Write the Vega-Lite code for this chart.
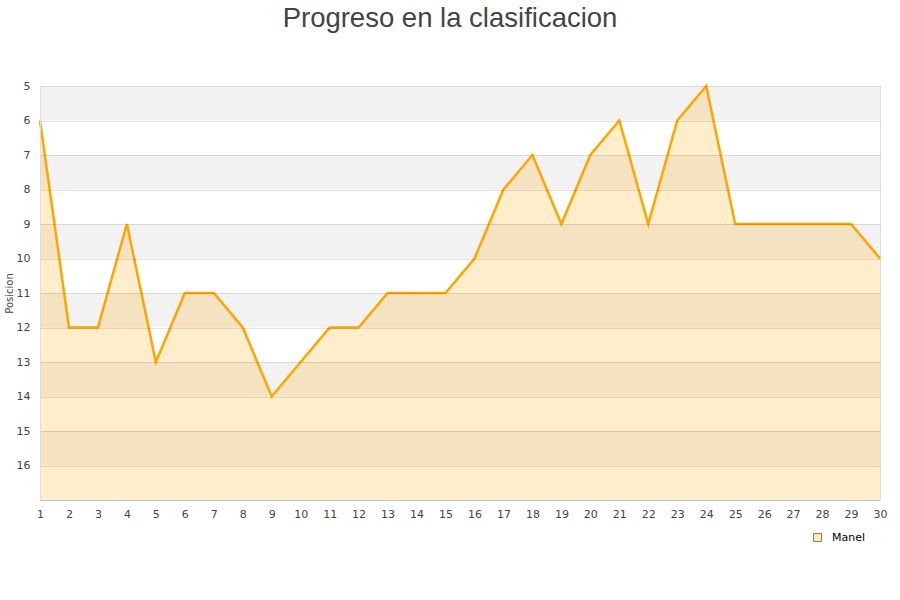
{
  "$schema": "https://vega.github.io/schema/vega-lite/v6.json",
  "width": 840,
  "height": 414,
  "autosize": {"type": "none"},
  "padding": {"left": 40, "top": 86, "right": 20, "bottom": 100},
  "background": "white",
  "title": {
    "text": "Progreso en la clasificacion",
    "font": "Liberation Sans",
    "fontSize": 27.5,
    "fontWeight": "normal",
    "color": "#444444",
    "anchor": "middle",
    "frame": "group",
    "dx": -10,
    "offset": 48
  },
  "config": {
    "view": {"stroke": "#dddddd"},
    "axis": {
      "labelFont": "DejaVu Sans",
      "labelFontSize": 11,
      "labelColor": "#444444",
      "titleFont": "DejaVu Sans",
      "titleFontWeight": "normal",
      "titleColor": "#444444",
      "labelOverlap": false
    }
  },
  "datasets": {
    "pos": [
      {"jornada": 1, "posicion": 6, "jugador": "Manel"},
      {"jornada": 2, "posicion": 12, "jugador": "Manel"},
      {"jornada": 3, "posicion": 12, "jugador": "Manel"},
      {"jornada": 4, "posicion": 9, "jugador": "Manel"},
      {"jornada": 5, "posicion": 13, "jugador": "Manel"},
      {"jornada": 6, "posicion": 11, "jugador": "Manel"},
      {"jornada": 7, "posicion": 11, "jugador": "Manel"},
      {"jornada": 8, "posicion": 12, "jugador": "Manel"},
      {"jornada": 9, "posicion": 14, "jugador": "Manel"},
      {"jornada": 10, "posicion": 13, "jugador": "Manel"},
      {"jornada": 11, "posicion": 12, "jugador": "Manel"},
      {"jornada": 12, "posicion": 12, "jugador": "Manel"},
      {"jornada": 13, "posicion": 11, "jugador": "Manel"},
      {"jornada": 14, "posicion": 11, "jugador": "Manel"},
      {"jornada": 15, "posicion": 11, "jugador": "Manel"},
      {"jornada": 16, "posicion": 10, "jugador": "Manel"},
      {"jornada": 17, "posicion": 8, "jugador": "Manel"},
      {"jornada": 18, "posicion": 7, "jugador": "Manel"},
      {"jornada": 19, "posicion": 9, "jugador": "Manel"},
      {"jornada": 20, "posicion": 7, "jugador": "Manel"},
      {"jornada": 21, "posicion": 6, "jugador": "Manel"},
      {"jornada": 22, "posicion": 9, "jugador": "Manel"},
      {"jornada": 23, "posicion": 6, "jugador": "Manel"},
      {"jornada": 24, "posicion": 5, "jugador": "Manel"},
      {"jornada": 25, "posicion": 9, "jugador": "Manel"},
      {"jornada": 26, "posicion": 9, "jugador": "Manel"},
      {"jornada": 27, "posicion": 9, "jugador": "Manel"},
      {"jornada": 28, "posicion": 9, "jugador": "Manel"},
      {"jornada": 29, "posicion": 9, "jugador": "Manel"},
      {"jornada": 30, "posicion": 10, "jugador": "Manel"}
    ],
    "bands": [
      {"desde": 5, "hasta": 6},
      {"desde": 7, "hasta": 8},
      {"desde": 9, "hasta": 10},
      {"desde": 11, "hasta": 12},
      {"desde": 13, "hasta": 14},
      {"desde": 15, "hasta": 16}
    ]
  },
  "layer": [
    {
      "data": {"name": "bands"},
      "mark": {"type": "rect", "color": "#f2f2f2"},
      "encoding": {
        "y": {"field": "desde", "type": "quantitative", "scale": {"domain": [5, 17], "reverse": true, "nice": false, "zero": false}},
        "y2": {"field": "hasta"}
      }
    },
    {
      "data": {"name": "pos"},
      "mark": {"type": "area", "fillOpacity": 0.2, "interpolate": "linear"},
      "encoding": {
        "x": {"field": "jornada", "type": "quantitative",
              "scale": {"domain": [1, 30], "nice": false, "zero": false},
              "axis": {"values": [1,2,3,4,5,6,7,8,9,10,11,12,13,14,15,16,17,18,19,20,21,22,23,24,25,26,27,28,29,30], "tickCount": 30,
                       "title": null, "grid": false, "ticks": false, "domain": true, "domainColor": "#dddddd", "labelPadding": 8, "labelFlush": false, "labelOverlap": false}},
        "y": {"field": "posicion", "type": "quantitative",
              "scale": {"domain": [5, 17], "reverse": true, "nice": false, "zero": false},
              "axis": {"values": [5,6,7,8,9,10,11,12,13,14,15,16,17], "tickCount": 13, "labelExpr": "datum.value == 17 ? '' : datum.label",
                       "title": "Posicion", "titleFontSize": 10, "titleX": -31, "titleY": 207, "titleAngle": -90, "titleBaseline": "middle", "titleAlign": "center",
                       "grid": true, "gridColor": "#000000", "gridOpacity": 0.11, "ticks": false, "domain": true, "domainColor": "#dddddd",
                       "labelPadding": 10, "labelOverlap": false, "zindex": 1}},
        "y2": {"datum": 17},
        "fill": {"field": "jugador", "type": "nominal",
                 "scale": {"range": ["#ffa500"]},
                 "legend": {"orient": "none", "legendX": 772, "legendY": 446, "title": null,
                            "symbolType": "square", "symbolSize": 64, "labelOffset": 9,
                            "labelFont": "DejaVu Sans", "labelFontSize": 11, "labelColor": "#000000",
                            "symbolOpacity": 1,
                            "encode": {"symbols": {"update": {"fillOpacity": {"value": 0.25}, "stroke": {"value": "#8a7a5a"}, "strokeWidth": {"value": 1}, "strokeOpacity": {"value": 1}}}}}}
      }
    },
    {
      "data": {"name": "pos"},
      "mark": {"type": "line", "color": "#ffa500", "strokeWidth": 2.5},
      "encoding": {
        "x": {"field": "jornada", "type": "quantitative"},
        "y": {"field": "posicion", "type": "quantitative"}
      }
    }
  ]
}
